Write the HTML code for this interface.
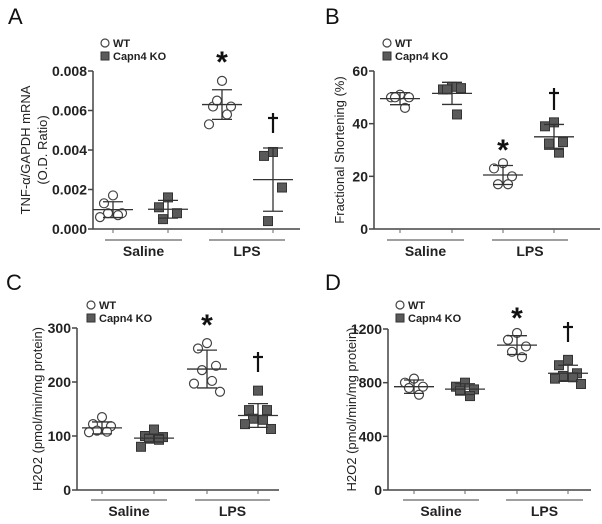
<!DOCTYPE html>
<html><head><meta charset="utf-8"><style>
html,body{margin:0;padding:0;background:#fff;}
svg{display:block;font-family:"Liberation Sans",Arial,sans-serif;}
.tick{font-size:14px;font-weight:bold;fill:#222;}
.ttl{font-size:13px;fill:#222;}
.lg{font-size:11px;font-weight:bold;fill:#222;}
.grp{font-size:14px;font-weight:bold;fill:#222;}
.let{font-size:22px;fill:#111;}
</style></head><body>
<svg id="fig" width="602" height="524" viewBox="0 0 602 524"></svg>
<script>
const categories = ["WT Saline","KO Saline","WT LPS","KO LPS"];
const groupLabels = ["Saline","LPS"];
// Panel A
const aTicks = ["0.000","0.002","0.004","0.006","0.008"];
const aValues = [[0.0017,0.0013,0.0008,0.0008,0.0007,0.0006],[0.0016,0.0011,0.0008,0.0005],[0.0075,0.0062,0.0062,0.0065,0.0058,0.0053],[0.0039,0.0037,0.0021,0.0004]];
const aMeans = [0.00098,0.001,0.0063,0.0025];
const aSD = [0.0004,0.00045,0.00075,0.0016];
// Panel B
const bTicks = ["0","20","40","60"];
const bValues = [[51,50,50,50,46],[54,53,53.5,53,43.5],[25,23,20,17,17],[40.5,39,33,32.5,29]];
const bMeans = [49.5,51.5,20.5,35];
const bSD = [2.3,4.2,3.6,4.7];
// Panel C
const cTicks = ["0","100","200","300"];
const cValues = [[135,122,118,110,108,107],[112,100,98,95,93,80],[272,262,230,222,202,197,182],[184,148,148,132,130,122,113]];
const cMeans = [115,96,224,138];
const cSD = [11,7,35,22];
// Panel D
const dTicks = ["0","400","800","1200"];
const dValues = [[830,800,770,760,710],[800,770,750,740,700],[1170,1120,1070,1030,990],[970,930,870,850,840,830,790]];
const dMeans = [770,752,1080,870];
const dSD = [50,40,70,60];

const NS="http://www.w3.org/2000/svg";
const svg=document.getElementById('fig');
function mk(tag,attrs,parent){const e=document.createElementNS(NS,tag);for(const k in attrs)e.setAttribute(k,attrs[k]);(parent||svg).appendChild(e);return e;}

const panels=[
 {id:'a',letter:'A',lx:8,ly:24,ax:93,top:71,bot:229,xend:300,max:0.008,ticks:aTicks,vals:aValues,means:aMeans,sd:aSD,cx:[113,168,222,273],g1:[105,182],g2:[209,285],gy:240,leg:[105,43],star:[222,58],dag:[273,113,133],title:["TNF-α/GAPDH mRNA","(O.D. Ratio)"],tx:[30,47]},
 {id:'b',letter:'B',lx:325,ly:24,ax:374,top:71,bot:229,xend:600,max:60,ticks:bTicks,vals:bValues,means:bMeans,sd:bSD,cx:[400,452,503,554],g1:[387,464],g2:[492,568],gy:240,leg:[387,43],star:[503,146],dag:[554,88,110],title:["Fractional Shortening (%)"],tx:[344]},
 {id:'c',letter:'C',lx:6,ly:290,ax:77,top:328,bot:490,xend:279,max:300,ticks:cTicks,vals:cValues,means:cMeans,sd:cSD,cx:[102,154,207,258],g1:[91,167],g2:[195,270],gy:500,leg:[91,305],star:[207,321],dag:[258,352,372],title:["H2O2 (pmol/min/mg protein)"],tx:[42]},
 {id:'d',letter:'D',lx:325,ly:290,ax:388,top:329,bot:490,xend:591,max:1200,ticks:dTicks,vals:dValues,means:dMeans,sd:dSD,cx:[414,465,517,568],g1:[403,479],g2:[506,583],gy:500,leg:[400,305],star:[517,314],dag:[568,322,342],title:["H2O2 (pmol/min/mg protein)"],tx:[356]}
];
const jit=[0,-9,9,-5,5,-13,13];

panels.forEach(p=>{
 const g=mk('g',{});
 
 
 const y=v=>p.bot-(v/p.max)*(p.bot-p.top);
 let t=mk('text',{x:p.lx,y:p.ly,class:'let'},g);t.textContent=p.letter;
 
 
 // axes
 let ya=mk('line',{x1:p.ax,y1:p.top,x2:p.ax,y2:p.bot,stroke:'#444','stroke-width':1.5},g);
 
 
 let xa=mk('line',{x1:p.ax,y1:p.bot,x2:p.xend,y2:p.bot,stroke:'#444','stroke-width':1.5},g);
 
 
 p.ticks.forEach((lab,i)=>{
  const v=parseFloat(lab), yy=y(v);
  mk('line',{x1:p.ax-5,y1:yy,x2:p.ax,y2:yy,stroke:'#444','stroke-width':1.5},g);
  const tt=mk('text',{x:p.ax-6,y:yy+5,'text-anchor':'end',class:'tick'},g);tt.textContent=lab;
  
  
 });
 p.cx.forEach(x=>mk('line',{x1:x,y1:p.bot,x2:x,y2:p.bot+4,stroke:'#666','stroke-width':1},g));
 // group lines
 [p.g1,p.g2].forEach((gg,i)=>{
  mk('line',{x1:gg[0],y1:p.gy,x2:gg[1],y2:p.gy,stroke:'#666','stroke-width':1.2},g);
  const gt=mk('text',{x:(gg[0]+gg[1])/2,y:p.gy+16,'text-anchor':'middle',class:'grp'},g);gt.textContent=groupLabels[i];
  
  
 });
 // y title
 const tcy=(p.top+p.bot)/2;
 p.title.forEach((s,i)=>{
  const tx=p.tx[i];
  const yt=mk('text',{x:tx,y:tcy,'text-anchor':'middle',class:'ttl',transform:`rotate(-90 ${tx} ${tcy})`},g);yt.textContent=s;
  
  
 });
 // points
 p.vals.forEach((arr,ci)=>{
  const ko=ci%2===1;
  arr.forEach((v,j)=>{
   const x=p.cx[ci]+jit[j%jit.length], yy=y(v);
   let m;
   if(ko) m=mk('rect',{x:x-4.5,y:yy-4.5,width:9,height:9,fill:'#5a5a5a',stroke:'#333','stroke-width':1},g);
   else m=mk('circle',{cx:x,cy:yy,r:4.5,fill:'#fff',stroke:'#444','stroke-width':1.2},g);
   
   
  });
  const cx=p.cx[ci], mv=p.means[ci], s=p.sd[ci];
  const eb=mk('g',{stroke:'#333','stroke-width':1.3,fill:'none'},g);
  
  
  mk('line',{x1:cx-20,y1:y(mv),x2:cx+20,y2:y(mv)},eb);
  mk('line',{x1:cx,y1:y(mv+s),x2:cx,y2:y(mv-s)},eb);
  mk('line',{x1:cx-10,y1:y(mv+s),x2:cx+10,y2:y(mv+s)},eb);
  mk('line',{x1:cx-10,y1:y(mv-s),x2:cx+10,y2:y(mv-s)},eb);
 });
 // star & dagger
 const st=mk('text',{x:p.star[0],y:p.star[1]+14,'text-anchor':'middle','font-size':30,'font-weight':'bold',fill:'#111'},g);st.textContent='*';
 
 
 const dg=mk('g',{stroke:'#111','stroke-width':2.2},g);
 
 
 mk('line',{x1:p.dag[0],y1:p.dag[1],x2:p.dag[0],y2:p.dag[2]},dg);
 mk('line',{x1:p.dag[0]-5,y1:p.dag[1]+5,x2:p.dag[0]+5,y2:p.dag[1]+5},dg);
 // legend
 const lg=mk('g',{},g);
 
 
 mk('circle',{cx:p.leg[0],cy:p.leg[1],r:4,fill:'#fff',stroke:'#444','stroke-width':1.2},lg);
 let l1=mk('text',{x:p.leg[0]+8,y:p.leg[1]+4,class:'lg'},lg);l1.textContent='WT';
 mk('rect',{x:p.leg[0]-4,y:p.leg[1]+9,width:8,height:8,fill:'#5a5a5a',stroke:'#333'},lg);
 let l2=mk('text',{x:p.leg[0]+8,y:p.leg[1]+17,class:'lg'},lg);l2.textContent='Capn4 KO';
});
</script>
</body></html>
